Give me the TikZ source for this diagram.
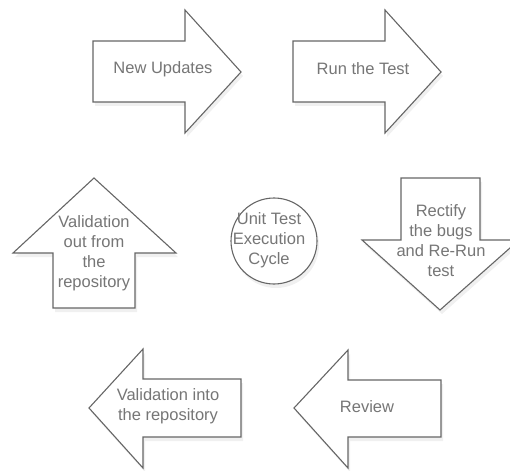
\documentclass[tikz,border=0pt]{standalone}
\usepackage{fontspec}
\setmainfont{Liberation Sans}
\usetikzlibrary{shadows}
\definecolor{edgegray}{HTML}{666666}
\definecolor{textgray}{HTML}{767676}
\begin{document}
\begin{tikzpicture}[x=1pt,y=-1pt,
        blockshape/.style={draw=edgegray,line width=1.1pt,fill=white,
            drop shadow={opacity=0.12,shadow xshift=2pt,shadow yshift=-4pt}},
        blocktext/.style={text=textgray,align=center,inner sep=0pt,
            font=\fontsize{16.5}{20}\selectfont}]
            \useasboundingbox (0,0) rectangle (510,470);
            % top row
            \draw[blockshape] (93,41) -- (185,41) -- (185,10) -- (241,72) -- (185,133) -- (185,102) -- (93,102) -- cycle;
            \draw[blockshape] (293,41) -- (385,41) -- (385,10) -- (441,72) -- (385,133) -- (385,102) -- (293,102) -- cycle;
            % middle row
            \draw[blockshape] (53,308) -- (53,253) -- (13,253) -- (94,178) -- (176,253) -- (135,253) -- (135,308) -- cycle;
            \draw[blockshape] (274,241) circle (43);
            \draw[blockshape] (401,178) -- (480,178) -- (480,240) -- (519,240) -- (440,310) -- (362,240) -- (401,240) -- cycle;
            % bottom row
            \draw[blockshape] (241,379) -- (143,379) -- (143,349) -- (89,408) -- (143,468) -- (143,437) -- (241,437) -- cycle;
            \draw[blockshape] (441,380) -- (348,380) -- (348,350) -- (294,408) -- (348,468) -- (348,437) -- (441,437) -- cycle;
            \node[blocktext] (updates) at (163,69) {New Updates};
            \node[blocktext] (runtest) at (363,69) {Run the Test};
            \node[blocktext] (valout) at (94,253) {Validation\\out from\\the\\repository};
            \node[blocktext] (cycle) at (269,240) {Unit Test\\Execution\\Cycle};
            \node[blocktext] (rectify) at (441,241) {Rectify\\the bugs\\and Re-Run\\test};
            \node[blocktext] (valinto) at (168,406) {Validation into\\the repository};
            \node[blocktext] (review) at (367,407) {Review};
        \end{tikzpicture}
\end{document}
